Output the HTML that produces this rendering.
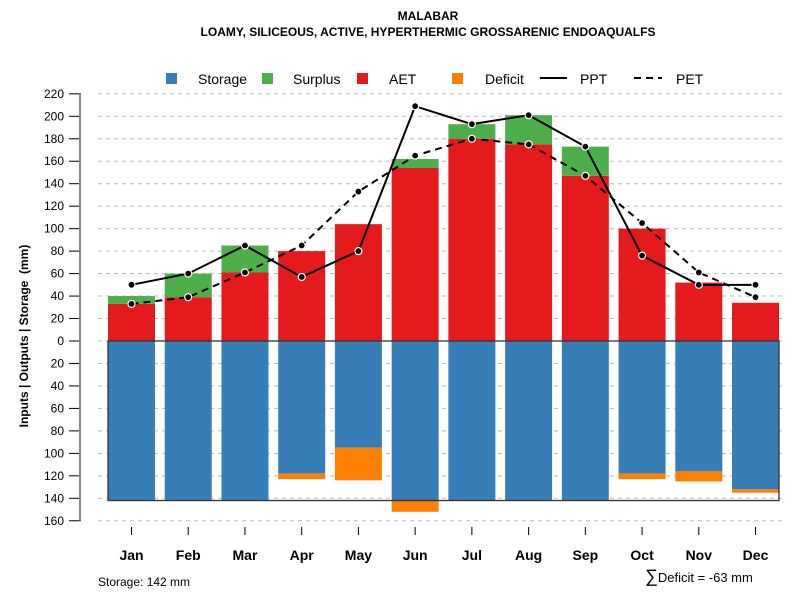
<!DOCTYPE html>
<html><head><meta charset="utf-8"><style>
body{margin:0;background:#fff}
svg text{font-family:"Liberation Sans",Arial,sans-serif}
</style></head><body>
<svg id="c" width="800" height="600" xmlns="http://www.w3.org/2000/svg">
<text x="428" y="20" text-anchor="middle" font-size="12" font-weight="bold">MALABAR</text>
<text x="428" y="36" text-anchor="middle" font-size="12" font-weight="bold">LOAMY, SILICEOUS, ACTIVE, HYPERTHERMIC GROSSARENIC ENDOAQUALFS</text>
<g>
<rect x="166" y="73" width="11" height="11" fill="#377eb8"/>
<text x="198" y="84" font-size="14">Storage</text>
<rect x="262" y="73" width="11" height="11" fill="#4daf4a"/>
<text x="293" y="84" font-size="14">Surplus</text>
<rect x="357" y="73" width="11" height="11" fill="#e41a1c"/>
<text x="389" y="84" font-size="14">AET</text>
<rect x="452" y="73" width="11" height="11" fill="#ff7f00"/>
<text x="485" y="84" font-size="14">Deficit</text>
<line x1="540" y1="78" x2="567" y2="78" stroke="#000" stroke-width="2"/>
<text x="580" y="84" font-size="14">PPT</text>
<line x1="634" y1="78" x2="662" y2="78" stroke="#000" stroke-width="2" stroke-dasharray="7,5"/>
<text x="676" y="84" font-size="14">PET</text>
</g>
<text transform="translate(28,336) rotate(-90)" text-anchor="middle" font-size="12" font-weight="bold" xml:space="preserve">Inputs | Outputs | Storage  (mm)</text>
<text x="98" y="586" font-size="12">Storage: 142 mm</text>
<text x="645" y="582" font-size="13"><tspan font-size="18">∑</tspan>Deficit = -63 mm</text>
<g id="grid"></g><g id="bars"></g><g id="axes"></g><g id="lines"></g>
</svg>
<script>
const months=["Jan","Feb","Mar","Apr","May","Jun","Jul","Aug","Sep","Oct","Nov","Dec"];
const ppt=[50,60,85,57,80,209,193,201,173,76,50,50];
const pet=[33,39,61,85,133,165,180,175,147,105,61,39];
const aet=[33,39,61,80,104,154,180,175,147,100,52,34];
const surplus=[7,21,24,0,0,8,13,26,26,0,0,0];
const storage=[142,142,142,118,95,142,142,142,142,118,116,132];
const deficit=[0,0,0,5,29,10,0,0,0,5,9,3];
const yTicks=[220,200,180,160,140,120,100,80,60,40,20,0,-20,-40,-60,-80,-100,-120,-140,-160];
const capacity=142;
const NS="http://www.w3.org/2000/svg";
function y(v){return 341-v*1.1235;}
function xc(i){return 131.5+i*56.73;}
const BW=47;
function mk(t,a,p){const e=document.createElementNS(NS,t);for(const k in a)e.setAttribute(k,a[k]);document.getElementById(p).appendChild(e);return e;}
yTicks.forEach(t=>{
 const g=mk("line",{x1:98,x2:782,y1:y(t),y2:y(t),stroke:"#bbb","stroke-dasharray":"4,4"},"grid");
 
 
 const tk=mk("line",{x1:69,x2:81,y1:y(t),y2:y(t),stroke:"#000"},"axes");
 
 
 const l=mk("text",{x:64,y:y(t)+4,"text-anchor":"end","font-size":12},"axes");
 l.textContent=Math.abs(t);
 
 
});
const ax=mk("line",{x1:80,x2:80,y1:y(220),y2:y(-160),stroke:"#888","stroke-width":2},"axes");


months.forEach((m,i)=>{
 const x0=xc(i)-BW/2;
 const r1=mk("rect",{x:x0,y:y(aet[i]),width:BW,height:y(0)-y(aet[i]),fill:"#e41a1c"},"bars");
 
 
 if(surplus[i]>0){const r=mk("rect",{x:x0,y:y(aet[i]+surplus[i]),width:BW,height:y(aet[i])-y(aet[i]+surplus[i]),fill:"#4daf4a"},"bars");
 
 }
 const r2=mk("rect",{x:x0,y:y(0),width:BW,height:y(-storage[i])-y(0),fill:"#377eb8"},"bars");
 
 
 if(deficit[i]>0){const r=mk("rect",{x:x0,y:y(-storage[i]),width:BW,height:y(-storage[i]-deficit[i])-y(-storage[i]),fill:"#ff7f00"},"bars");
 
 }
 const tk=mk("line",{x1:xc(i),x2:xc(i),y1:527,y2:535,stroke:"#000"},"axes");
 
 
 const l=mk("text",{x:xc(i),y:560,"text-anchor":"middle","font-size":14,"font-weight":"bold"},"axes");
 l.textContent=m;
 
 
});
const box=mk("rect",{x:108,y:y(0),width:671,height:y(-capacity)-y(0),fill:"none",stroke:"#333","stroke-width":1.3},"bars");


function series(arr,dash,name){
 const p=mk("polyline",{points:arr.map((v,i)=>xc(i)+","+y(v)).join(" "),fill:"none",stroke:"#000","stroke-width":2,"stroke-dasharray":dash},"lines");
 
 
 arr.forEach((v,i)=>{const c=mk("circle",{cx:xc(i),cy:y(v),r:3.5,fill:"#000",stroke:"#fff","stroke-width":1.2},"lines");
 
 });
}
series(pet,"7,5","pet");
series(ppt,"none","ppt");
</script>
</body></html>
